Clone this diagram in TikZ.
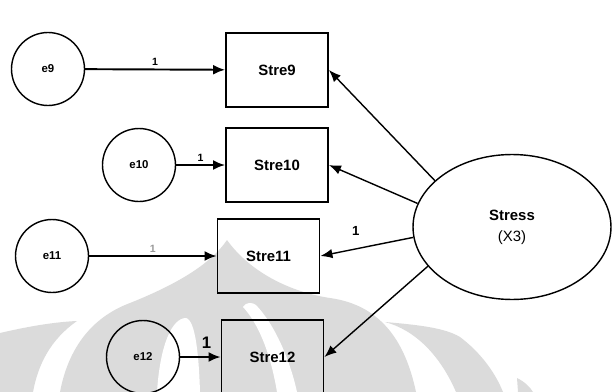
\documentclass[tikz,border=0pt]{standalone}
\usepackage{fontspec}
\setmainfont{Liberation Sans}
\usetikzlibrary{arrows.meta,shapes.geometric}

\begin{document}
\begin{tikzpicture}[x=0.02cm,y=-0.02cm,
	fehler/.style={circle,draw,line width=0.8pt,minimum size=1.46cm,inner sep=0pt,font=\fontsize{6.5}{7}\selectfont\bfseries},
	item/.style={rectangle,draw,line width=1.1pt,minimum width=2.04cm,minimum height=1.48cm,inner sep=0pt,font=\fontsize{8.5}{10}\selectfont\bfseries},
	faktor/.style={ellipse,draw,line width=0.8pt,minimum width=3.96cm,minimum height=2.9cm,inner sep=0pt,align=center,font=\fontsize{8.5}{12}\selectfont},
	pfeil/.style={-{Latex[length=2.4mm,width=2mm]},line width=1.1pt},
	ladung/.style={-{Latex[length=2.4mm,width=1.9mm]},line width=0.8pt},
	eins/.style={font=\fontsize{6}{7}\selectfont\bfseries,inner sep=1.5pt}]
	\useasboundingbox (0,0) rectangle (612,392);
	% Wasserzeichen im Hintergrund
	\fill[black!14] (0,333) .. controls (30,326) and (55,322) .. (77,321) .. controls (50,340) and (38,365) .. (33,392) -- (0,392) -- cycle;
	\fill[black!14] (227,240) .. controls (250,272) and (290,292) .. (330,298) .. controls (380,305) and (405,340) .. (416,392) -- (60,392) .. controls (68,350) and (90,318) .. (130,303) .. controls (175,285) and (210,265) .. (227,240) -- cycle;
	\fill[white] (157,392) .. controls (160,345) and (172,318) .. (186,318) .. controls (196,320) and (199,360) .. (200,392) -- cycle;
	\fill[white] (277,392) .. controls (270,350) and (257,322) .. (243,307) .. controls (246,302) and (252,302) .. (256,305) .. controls (275,325) and (290,360) .. (297,392) -- cycle;
	\fill[black!14] (385,322) .. controls (420,325) and (445,328) .. (460,337) .. controls (480,352) and (495,372) .. (503,392) -- (456,392) .. controls (440,355) and (415,330) .. (385,322) -- cycle;
	\fill[black!14] (517,378) .. controls (525,382) and (530,387) .. (533,392) -- (518,392) -- cycle;
	% Fehlerterme
	\node[fehler] (e9) at (48,69) {e9};
	\node[fehler] (e10) at (139,165) {e10};
	\node[fehler] (e11) at (52,256) {e11};
	\node[fehler] (e12) at (143,357) {e12};
	% Indikatoren
	\node[item] (stre9) at (277,70) {Stre9};
	\node[item] (stre10) at (277,165) {Stre10};
	\node[item] (stre11) at (268.5,256) {Stre11};
	\node[item] (stre12) at (272.5,357) {Stre12};
	% latente Variable
	\node[faktor] (stress) at (512,227) {\textbf{Stress}\\(X3)};
	% Pfeile
	\draw[pfeil] (e9) -- node[eins,above] {1} (stre9);
	\draw[pfeil] (e10) -- node[eins,above] {1} (stre10);
	\draw[pfeil] (e11) -- node[eins,above,text=black!40] {1} (stre11);
	\draw[pfeil] (e12) -- node[eins,above,pos=0.65,yshift=3pt,font=\fontsize{9.5}{10}\selectfont\bfseries] {1} (stre12);
	\draw[ladung] (stress.149) -- (stre9.east);
	\draw[ladung] (stress.166) -- (stre10.east);
	\draw[ladung] (stress.186) -- node[eins,above,pos=0.62,yshift=6pt,font=\fontsize{7.5}{8}\selectfont\bfseries] {1} (stre11.east);
	\draw[ladung] (stress.205) -- (stre12.east);
\end{tikzpicture}
\end{document}
